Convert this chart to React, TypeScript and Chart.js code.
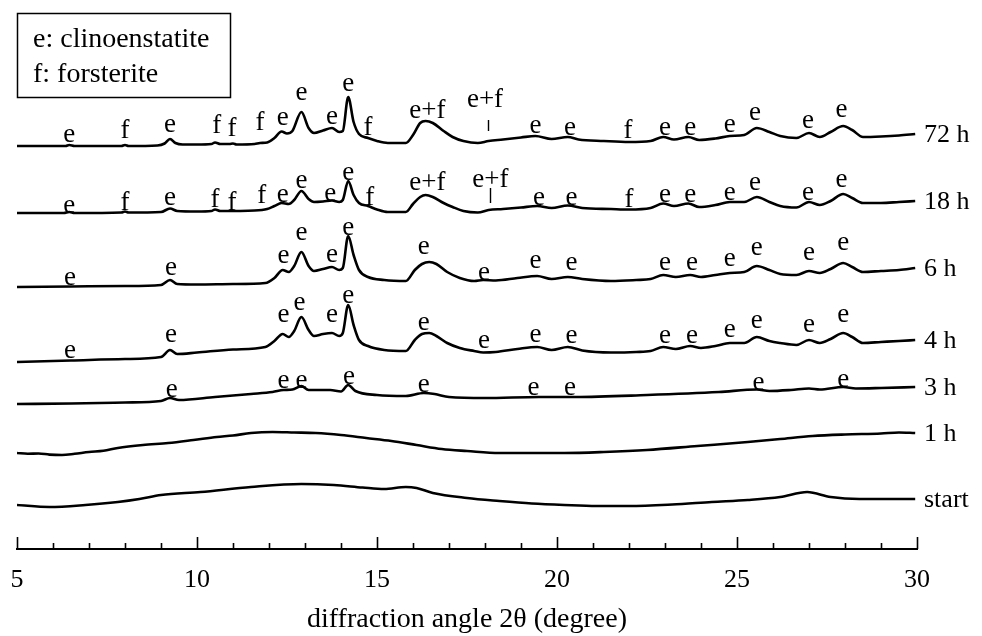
import React, { useEffect, useRef } from "react";
import { Chart, registerables } from "chart.js";

Chart.register(...registerables);

// ---- data (2θ in degree, intensity in a.u. above each trace's own baseline) ----
const SERIES_LABELS = ["72 h", "18 h", "6 h", "4 h", "3 h", "1 h", "start"];
const OFFSETS = [403, 336, 262, 187, 145, 94, 42];

const H72: [number, number][] = [
  [5.0, 0], [6.0, 0], [6.35, 0], [6.45, 1], [6.6, 0], [7.9, 0], [8.0, 1], [8.1, 0],
  [8.9, 0.5], [9.1, 2.5], [9.25, 7], [9.4, 3], [9.6, 1.5], [10.0, 1.5], [10.4, 2], [10.5, 3.5],
  [10.65, 2], [10.9, 2], [11.0, 2.5], [11.1, 1.5], [11.6, 2], [11.75, 3], [11.95, 3.5],
  [12.15, 8], [12.35, 14.5], [12.5, 12.5], [12.65, 15], [12.9, 34], [13.1, 18], [13.25, 13],
  [13.5, 15.5], [13.75, 18], [13.95, 14], [14.05, 15], [14.2, 49], [14.35, 24], [14.5, 12],
  [14.75, 8], [15.0, 5], [15.3, 3], [15.8, 3], [16.0, 11], [16.2, 23], [16.35, 25], [16.55, 23],
  [16.85, 15], [17.1, 9], [17.4, 5], [17.8, 3], [18.1, 5], [18.5, 6.5], [19.0, 8.5], [19.4, 10],
  [19.85, 7], [20.3, 9], [20.6, 6.5], [21.3, 5], [22.0, 4], [22.6, 5], [22.95, 9], [23.25, 6.5],
  [23.65, 9], [23.95, 6], [24.4, 7.5], [24.8, 10], [25.2, 11], [25.55, 18], [25.9, 14], [26.2, 10],
  [26.65, 8], [27.0, 13], [27.3, 9], [27.6, 14], [27.95, 20], [28.2, 16], [28.5, 9], [29.0, 9.5],
  [29.5, 10.5], [29.95, 12],
];

const H18: [number, number][] = [
  [5.0, 0], [6.3, 0], [6.45, 1], [6.6, 0], [7.9, 0.5], [8.0, 1.5], [8.1, 0.5], [9.0, 1],
  [9.25, 4.5], [9.45, 2], [10.0, 1.5], [10.4, 2], [10.5, 3.5], [10.65, 2], [11.6, 2.5], [11.95, 4],
  [12.15, 7], [12.35, 10], [12.55, 9], [12.7, 13], [12.9, 22], [13.1, 14], [13.25, 11], [13.5, 11.5],
  [13.75, 12.5], [13.95, 11], [14.05, 13], [14.2, 32], [14.35, 18], [14.5, 10], [14.75, 7],
  [15.0, 3.5], [15.3, 1], [15.8, 1], [16.0, 9], [16.2, 16], [16.35, 18], [16.55, 16], [16.85, 10],
  [17.1, 6], [17.4, 2], [17.8, 0.5], [18.1, 3], [18.5, 4], [19.0, 5.5], [19.45, 7], [19.85, 5],
  [20.3, 7.5], [20.7, 5], [21.5, 4], [22.0, 3.5], [22.6, 5], [22.95, 9.5], [23.25, 7], [23.65, 9.5],
  [23.95, 6], [24.4, 8], [24.8, 11], [25.2, 11], [25.55, 16], [25.9, 11], [26.2, 7], [26.65, 5.5],
  [27.0, 11], [27.3, 8], [27.6, 12], [27.95, 19], [28.2, 15], [28.5, 10], [29.0, 10], [29.5, 11],
  [29.95, 12],
];

const H6: [number, number][] = [
  [5.0, 0], [6.5, 0.5], [8.0, 1], [9.0, 2], [9.25, 7], [9.45, 3], [10.0, 2.5], [11.0, 3],
  [11.9, 4], [12.15, 9], [12.38, 17], [12.55, 15], [12.7, 21], [12.9, 35], [13.1, 21], [13.25, 16],
  [13.5, 18], [13.75, 20], [13.95, 17], [14.05, 19], [14.2, 51], [14.35, 32], [14.5, 17],
  [14.75, 10], [15.2, 7], [15.8, 6], [16.05, 17], [16.25, 23], [16.45, 25], [16.65, 23],
  [16.95, 15], [17.3, 9], [17.7, 6], [17.95, 7], [18.3, 6.5], [18.9, 9], [19.45, 11], [19.85, 8],
  [20.3, 10], [20.7, 8], [21.5, 6], [22.2, 7], [22.6, 8], [22.95, 12], [23.3, 10], [23.7, 12],
  [24.0, 10], [24.4, 12], [24.8, 14], [25.2, 15], [25.55, 21], [25.9, 17], [26.2, 13], [26.65, 12],
  [27.0, 16], [27.3, 14], [27.6, 18], [27.95, 24], [28.2, 20], [28.5, 15], [29.0, 16], [29.5, 17],
  [29.95, 19],
];

const H4: [number, number][] = [
  [5.0, 0], [6.5, 1.5], [8.0, 3], [9.0, 5], [9.25, 12], [9.45, 8], [10.0, 9.5], [11.0, 12.5],
  [11.9, 15], [12.15, 21], [12.38, 28], [12.55, 25], [12.7, 31], [12.9, 45], [13.1, 32], [13.25, 26],
  [13.5, 28], [13.75, 29], [13.95, 26], [14.05, 29], [14.2, 57], [14.35, 37], [14.5, 22],
  [14.75, 16], [15.2, 12], [15.8, 11], [16.05, 22], [16.25, 28], [16.45, 29], [16.65, 26],
  [16.95, 19], [17.3, 14], [17.7, 11], [17.95, 9.5], [18.3, 10], [18.9, 13], [19.45, 15],
  [19.85, 12], [20.3, 15], [20.7, 11.5], [21.5, 9.5], [22.2, 10], [22.6, 11], [22.95, 15],
  [23.3, 13], [23.7, 16], [24.0, 14], [24.4, 16], [24.8, 19], [25.2, 19], [25.55, 25], [25.9, 21],
  [26.2, 19], [26.65, 17], [27.0, 22], [27.3, 19], [27.6, 23], [27.95, 29], [28.2, 25], [28.5, 19],
  [29.0, 20], [29.5, 21], [29.95, 22],
];

const H3: [number, number][] = [
  [5.0, 0], [6.5, 0.5], [8.0, 1.5], [9.0, 3], [9.25, 6], [9.5, 4], [10.5, 7], [11.5, 10],
  [12.1, 12], [12.4, 14], [12.65, 14.5], [12.9, 18], [13.1, 14], [13.7, 14], [14.0, 12.5],
  [14.2, 19], [14.4, 13], [15.0, 9], [15.8, 8], [16.3, 11], [16.6, 10], [17.0, 7], [18.0, 6],
  [19.5, 7], [20.5, 7], [22.5, 9], [24.5, 12], [25.55, 14.5], [25.9, 13], [26.5, 14], [27.0, 15.5],
  [27.3, 14.5], [27.95, 17], [28.3, 15.5], [29.0, 16], [29.95, 17],
];

const H1: [number, number][] = [
  [5.0, 2], [5.3, 1.2], [5.6, 1.5], [5.9, 0.4], [6.25, 0], [6.6, 1.2], [7.0, 3], [7.4, 4.2],
  [7.8, 7], [8.5, 10], [9.2, 12], [9.9, 15], [10.55, 18], [11.0, 19.5], [11.5, 22], [12.1, 23],
  [12.7, 22.5], [13.3, 22], [14.0, 20], [14.7, 17], [15.4, 14], [16.1, 10], [16.8, 6], [17.5, 4],
  [18.4, 2], [19.3, 2], [20.2, 2], [21.3, 3], [22.5, 5], [23.9, 9], [25.3, 13], [26.2, 16],
  [27.1, 19], [28.0, 20.5], [29.0, 21.5], [29.5, 22.5], [29.95, 22],
];

const HSTART: [number, number][] = [
  [5.0, 2], [5.9, 0], [6.9, 2], [7.8, 5], [8.4, 8], [9.0, 12], [10.1, 15], [11.5, 20], [12.9, 23],
  [13.8, 22], [14.6, 19.5], [15.2, 18], [15.8, 20], [16.1, 19], [16.55, 14], [17.5, 9], [18.4, 6],
  [19.3, 3.5], [20.2, 2], [21.1, 1], [22.0, 1], [23.2, 2.5], [24.3, 5], [25.3, 7], [26.2, 10],
  [26.95, 15], [27.6, 10], [28.4, 8], [29.2, 8], [29.95, 8],
];

const SERIES = [H72, H18, H6, H4, H3, H1, HSTART];

// peak assignments: [2θ, height above baseline, text]
const ANN_72H: [number, number, string][] = [
  [6.45, 14, "e"], [8.0, 18, "f"], [9.25, 24, "e"], [10.55, 23, "f"], [10.97, 20, "f"],
  [11.75, 26, "f"], [12.38, 31, "e"], [12.9, 56, "e"], [13.75, 32, "e"], [14.2, 65, "e"],
  [14.75, 21, "f"], [16.4, 38, "e+f"], [18.0, 49, "e+f"], [19.4, 23, "e"], [20.36, 21, "e"],
  [21.97, 18, "f"], [23.0, 21, "e"], [23.7, 21, "e"], [24.8, 24, "e"], [25.5, 36, "e"],
  [26.97, 28, "e"], [27.9, 39, "e"],
];
const ANN_18H: [number, number, string][] = [
  [6.45, 10, "e"], [8.0, 13, "f"], [9.25, 18, "e"], [10.5, 16, "f"], [10.97, 13, "f"],
  [11.8, 20, "f"], [12.38, 21, "e"], [12.9, 35, "e"], [13.7, 22, "e"], [14.2, 43, "e"],
  [14.8, 18, "f"], [16.4, 33, "e+f"], [18.15, 36, "e+f"], [19.5, 18, "e"], [20.4, 18, "e"],
  [22.0, 16, "f"], [23.0, 21, "e"], [23.7, 21, "e"], [24.8, 23, "e"], [25.5, 33, "e"],
  [26.97, 23, "e"], [27.9, 36, "e"],
];
const ANN_6H: [number, number, string][] = [
  [6.47, 12, "e"], [9.28, 22, "e"], [12.4, 34, "e"], [12.9, 57, "e"], [13.75, 35, "e"],
  [14.2, 62, "e"], [16.3, 43, "e"], [17.97, 17, "e"], [19.4, 29, "e"], [20.4, 27, "e"],
  [23.0, 27, "e"], [23.75, 27, "e"], [24.8, 31, "e"], [25.55, 42, "e"], [27.0, 37, "e"],
  [27.95, 47, "e"],
];
const ANN_4H: [number, number, string][] = [
  [6.47, 14, "e"], [9.28, 30, "e"], [12.4, 50, "e"], [12.85, 62, "e"], [13.75, 50, "e"],
  [14.2, 69, "e"], [16.3, 42, "e"], [17.97, 24, "e"], [19.4, 30, "e"], [20.4, 29, "e"],
  [23.0, 29, "e"], [23.75, 29, "e"], [24.8, 35, "e"], [25.55, 44, "e"], [27.0, 40, "e"],
  [27.95, 50, "e"],
];
const ANN_3H: [number, number, string][] = [
  [9.3, 17, "e"], [12.4, 26, "e"], [12.9, 26, "e"], [14.22, 30, "e"], [16.3, 22, "e"],
  [19.35, 19, "e"], [20.36, 19, "e"], [25.6, 24, "e"], [27.95, 27, "e"],
];
const ANNOTATIONS = [ANN_72H, ANN_18H, ANN_6H, ANN_4H, ANN_3H, [], []] as [number, number, string][][];

// vertical marker bars under the second "e+f": [series index, 2θ, from height, to height]
const MARKERS: [number, number, number, number][] = [
  [0, 18.08, 15, 26],
  [1, 18.15, 10, 25],
];

const LEGEND_LINES = ["e: clinoenstatite", "f: forsterite"];
const MAJOR_TICKS = [5, 10, 15, 20, 25, 30];
const MINOR_TICKS = [6, 7, 8, 9, 11, 12, 13, 14, 16, 17, 18, 19, 21, 22, 23, 24, 26, 27, 28, 29];
const X_MIN = 5;
const X_MAX = 30;
const Y_MAX = 549;
const X_TITLE = "diffraction angle 2θ (degree)";

const SERIF = "'Liberation Serif', 'Times New Roman', serif";

const overlayPlugin = {
  id: "xrdOverlay",
  afterDraw(chart: any) {
    const { ctx, chartArea } = chart;
    const xs = chart.scales.x;
    const ys = chart.scales.y;
    ctx.save();
    // tick marks pointing into the plot
    ctx.strokeStyle = "#000";
    ctx.lineWidth = 1.6;
    const drawTick = (v: number, len: number) => {
      const px = Math.round(xs.getPixelForValue(v)) + 0.5;
      ctx.beginPath();
      ctx.moveTo(px, chartArea.bottom);
      ctx.lineTo(px, chartArea.bottom - len);
      ctx.stroke();
    };
    MAJOR_TICKS.forEach((v) => drawTick(v, 12));
    MINOR_TICKS.forEach((v) => drawTick(v, 6));

    // peak labels
    ctx.fillStyle = "#000";
    ctx.font = `27px ${SERIF}`;
    ctx.textAlign = "center";
    ctx.textBaseline = "middle";
    ANNOTATIONS.forEach((list, si) => {
      list.forEach(([x, h, t]) => {
        ctx.fillText(t, xs.getPixelForValue(x), ys.getPixelForValue(OFFSETS[si] + h) + 3);
      });
    });

    // marker bars
    ctx.lineWidth = 1.4;
    MARKERS.forEach(([si, x, h1, h2]) => {
      const px = Math.round(xs.getPixelForValue(x)) + 0.5;
      ctx.beginPath();
      ctx.moveTo(px, ys.getPixelForValue(OFFSETS[si] + h1));
      ctx.lineTo(px, ys.getPixelForValue(OFFSETS[si] + h2));
      ctx.stroke();
    });

    // right-hand trace labels
    ctx.font = `26px ${SERIF}`;
    ctx.textAlign = "left";
    SERIES.forEach((s, si) => {
      const last = s[s.length - 1];
      ctx.fillText(SERIES_LABELS[si], chartArea.right + 7, ys.getPixelForValue(OFFSETS[si] + last[1]) + 1);
    });

    // legend box
    ctx.lineWidth = 1.5;
    ctx.strokeRect(17.5, 13.5, 213, 84);
    ctx.font = `28px ${SERIF}`;
    ctx.textBaseline = "alphabetic";
    ctx.fillText(LEGEND_LINES[0], 33, 47);
    ctx.fillText(LEGEND_LINES[1], 33, 82);
    ctx.restore();
  },
};

export default function App() {
  const ref = useRef<HTMLCanvasElement | null>(null);
  useEffect(() => {
    if (!ref.current) return;
    const chart = new Chart(ref.current, {
      type: "line",
      data: {
        datasets: SERIES.map((s, si) => ({
          label: SERIES_LABELS[si],
          data: s.map(([x, v]) => ({ x, y: OFFSETS[si] + v })),
          borderColor: "#000",
          borderWidth: 2.6,
          pointRadius: 0,
          fill: false,
          cubicInterpolationMode: "monotone" as const,
        })),
      },
      options: {
        animation: false,
        responsive: true,
        maintainAspectRatio: false,
        layout: { padding: { left: 17, right: 65, top: 0, bottom: 0 } },
        plugins: { legend: { display: false }, tooltip: { enabled: false }, title: { display: false } },
        scales: {
          x: {
            type: "linear",
            min: X_MIN,
            max: X_MAX,
            grid: { display: false },
            border: { display: true, color: "#000", width: 2 },
            ticks: {
              stepSize: 5,
              color: "#000",
              font: { family: SERIF, size: 26 },
              padding: 8,
              maxRotation: 0,
              autoSkip: false,
            },
            title: {
              display: true,
              text: X_TITLE,
              color: "#000",
              font: { family: SERIF, size: 28 },
              padding: { top: 0, bottom: 0 },
            },
            afterFit: (scale: any) => {
              scale.height = 636 - Y_MAX;
            },
          },
          y: { display: false, min: 0, max: Y_MAX },
        },
      },
      plugins: [overlayPlugin],
    });
    return () => chart.destroy();
  }, []);
  return (
    <div style={{ position: "absolute", left: 0, top: 0, width: 982, height: 636, background: "#fff" }}>
      <canvas ref={ref} style={{ display: "block" }} />
    </div>
  );
}
